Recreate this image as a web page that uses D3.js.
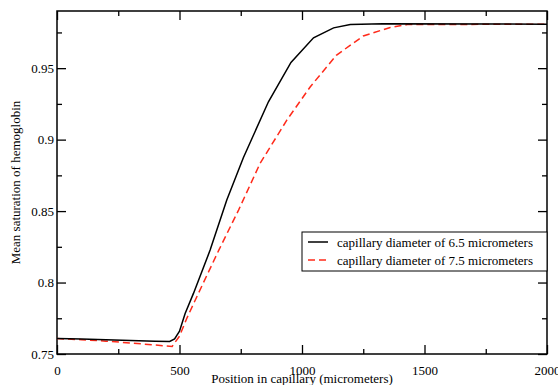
<!DOCTYPE html>
<html>
<head>
<meta charset="utf-8">
<script src="https://cdn.jsdelivr.net/npm/d3@7"></script>
<style>
    body { margin: 0; background: #fff; }
    text { font-family: "Liberation Serif", "Times New Roman", serif; fill: #000; }
</style>
</head>
<body>
<div id="chart"></div>
<script>

// position along the capillary (micrometers) and mean saturation
var pos65 = [0, 100, 200, 300, 400, 460, 480, 500, 523, 557, 625, 693, 761, 863, 955, 1047, 1129, 1197, 1330, 2000];
var sat65 = [0.7608, 0.7605, 0.7600, 0.7595, 0.7590, 0.7588, 0.7605, 0.7660, 0.7784, 0.7924, 0.8227, 0.8577, 0.8875, 0.9265, 0.9540, 0.9712, 0.9782, 0.9805, 0.9810, 0.9808];

var pos75 = [0, 100, 200, 300, 400, 470, 500, 530, 577, 660, 741, 829, 938, 1034, 1140, 1250, 1360, 1430, 2000];
var sat75 = [0.7608, 0.7600, 0.7590, 0.7577, 0.7563, 0.7553, 0.7625, 0.7750, 0.7924, 0.8225, 0.8507, 0.8834, 0.9136, 0.9370, 0.9590, 0.9725, 0.9785, 0.9805, 0.9808];

var xTicks = [0, 500, 1000, 1500, 2000];
var yTicks = [0.75, 0.8, 0.85, 0.9, 0.95];
var legendLabels = ["capillary diameter of 6.5 micrometers", "capillary diameter of 7.5 micrometers"];

var margin = { top: 11, right: 11, bottom: 31, left: 57 },
    width = 558 - margin.left - margin.right,
    height = 385 - margin.top - margin.bottom;

var svg = d3.select("#chart")
    .append("svg")
    .attr("width", 558)
    .attr("height", 385);
var g = svg.append("g")
    .attr("transform", "translate(" + margin.left + "," + margin.top + ")");

var x = d3.scaleLinear().domain([0, 2000]).range([0, width]);
var y = d3.scaleLinear().domain([0.75, 0.99]).range([height, 0]);

// minor ticks every 250 / 0.025
var xMinor = d3.range(250, 2000, 500);
var yMinor = d3.range(0.775, 0.99, 0.05);

function tickStyle(sel) {
    sel.select(".domain").remove();
    sel.selectAll("line").attr("stroke", "#000").attr("stroke-width", 1.3);
    sel.selectAll("text").attr("font-size", "13px");
}

// bottom
g.append("g")
    .attr("transform", "translate(0," + height + ")")
    .call(d3.axisBottom(x).tickValues(xTicks).tickSize(-9).tickPadding(12).tickFormat(d3.format("d")))
    .call(tickStyle);
g.append("g")
    .attr("transform", "translate(0," + height + ")")
    .call(d3.axisBottom(x).tickValues(xMinor).tickSize(-5).tickFormat(""))
    .call(tickStyle);
// top
g.append("g")
    .call(d3.axisTop(x).tickValues(xTicks).tickSize(-9).tickFormat(""))
    .call(tickStyle);
g.append("g")
    .call(d3.axisTop(x).tickValues(xMinor).tickSize(-5).tickFormat(""))
    .call(tickStyle);
// left
g.append("g")
    .call(d3.axisLeft(y).tickValues(yTicks).tickSize(-9).tickPadding(3).tickFormat(d => d3.format("")(+d.toFixed(2))))
    .call(tickStyle);
g.append("g")
    .call(d3.axisLeft(y).tickValues(yMinor).tickSize(-5).tickFormat(""))
    .call(tickStyle);
// right
g.append("g")
    .attr("transform", "translate(" + width + ",0)")
    .call(d3.axisRight(y).tickValues(yTicks).tickSize(-9).tickFormat(""))
    .call(tickStyle);
g.append("g")
    .attr("transform", "translate(" + width + ",0)")
    .call(d3.axisRight(y).tickValues(yMinor).tickSize(-5).tickFormat(""))
    .call(tickStyle);

// frame
g.append("rect")
    .attr("width", width)
    .attr("height", height)
    .attr("fill", "none")
    .attr("stroke", "#000")
    .attr("stroke-width", 1.5);

var line = d3.line()
    .x(d => x(d[0]))
    .y(d => y(d[1]));

g.append("path")
    .datum(d3.zip(pos75, sat75))
    .attr("fill", "none")
    .attr("stroke", "#ff2a1a")
    .attr("stroke-width", 1.5)
    .attr("stroke-dasharray", "7,4")
    .attr("d", line);

g.append("path")
    .datum(d3.zip(pos65, sat65))
    .attr("fill", "none")
    .attr("stroke", "#000")
    .attr("stroke-width", 1.5)
    .attr("d", line);

// axis titles
svg.append("text")
    .attr("x", margin.left + width / 2)
    .attr("y", 383)
    .attr("text-anchor", "middle")
    .attr("font-size", "13px")
    .text("Position in capillary (micrometers)");

svg.append("text")
    .attr("transform", "translate(20," + (margin.top + height / 2) + ") rotate(-90)")
    .attr("text-anchor", "middle")
    .attr("font-size", "13px")
    .text("Mean saturation of hemoglobin");

// legend
var legend = svg.append("g").attr("transform", "translate(302,232)");
legend.append("rect")
    .attr("width", 245)
    .attr("height", 39)
    .attr("fill", "#fff")
    .attr("stroke", "#000")
    .attr("stroke-width", 1);

var legendStyles = [{ color: "#000", dash: null }, { color: "#ff2a1a", dash: "7,4" }];
legendLabels.forEach((label, i) => {
    legend.append("line")
        .attr("x1", 6).attr("x2", 26)
        .attr("y1", 10 + i * 18).attr("y2", 10 + i * 18)
        .attr("stroke", legendStyles[i].color)
        .attr("stroke-width", 1.5)
        .attr("stroke-dasharray", legendStyles[i].dash);
    legend.append("text")
        .attr("x", 35)
        .attr("y", 14.5 + i * 18)
        .attr("font-size", "13px")
        .text(label);
});
</script>
</body>
</html>
